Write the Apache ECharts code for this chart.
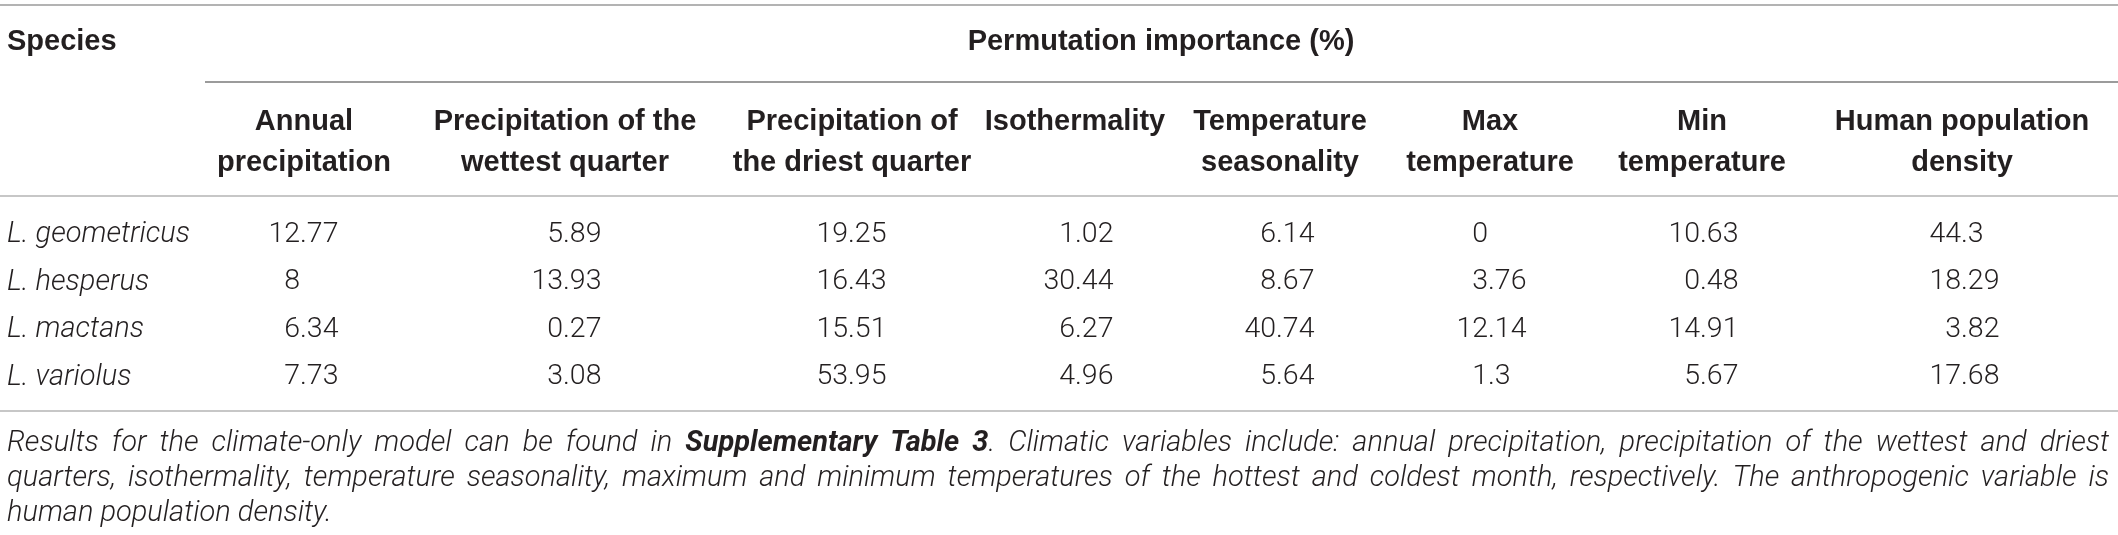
<!DOCTYPE html>
<html>
<head>
    <meta charset="UTF-8">
    <title>Permutation importance</title>
    <style>
        html, body {
            margin: 0;
            padding: 0;
            background: #ffffff;
        }
        #main {
            width: 2118px;
            height: 535px;
        }
    </style>
    <script src="https://cdn.jsdelivr.net/npm/echarts@6/dist/echarts.min.js"></script>
</head>
<body>
<div id="main"></div>
<script type="text/javascript">
    // rows
    var species = ['L. geometricus', 'L. hesperus', 'L. mactans', 'L. variolus'];
    // column headers (one entry per header line)
    var variables = [
        ['Annual', 'precipitation'],
        ['Precipitation of the', 'wettest quarter'],
        ['Precipitation of', 'the driest quarter'],
        ['Isothermality'],
        ['Temperature', 'seasonality'],
        ['Max', 'temperature'],
        ['Min', 'temperature'],
        ['Human population', 'density']
    ];
    // permutation importance (%) per variable, in species order
    var annualPrecip = [12.77, 8, 6.34, 7.73];
    var wettestPrecip = [5.89, 13.93, 0.27, 3.08];
    var driestPrecip = [19.25, 16.43, 15.51, 53.95];
    var isothermality = [1.02, 30.44, 6.27, 4.96];
    var tempSeasonality = [6.14, 8.67, 40.74, 5.64];
    var maxTemp = [0, 3.76, 12.14, 1.3];
    var minTemp = [10.63, 0.48, 14.91, 5.67];
    var humanDensity = [44.3, 18.29, 3.82, 17.68];
    var columns = [annualPrecip, wettestPrecip, driestPrecip, isothermality,
        tempSeasonality, maxTemp, minTemp, humanDensity];

    var caption = [
        'Results for the climate-only model can be found in **Supplementary Table 3**. Climatic variables include: annual precipitation, precipitation of the wettest and driest',
        'quarters, isothermality, temperature seasonality, maximum and minimum temperatures of the hottest and coldest month, respectively. The anthropogenic variable is',
        'human population density.'
    ];

    // layout (pixels)
    var colCenter = [304, 565, 852, 1075, 1280, 1490, 1702, 1962];
    var dotX = [300, 563, 848, 1075, 1276, 1488, 1700, 1961];
    var textColor = '#231f20';
    var boldFont = 'bold 29px "Liberation Sans", Arial, sans-serif';
    var lightFont = '300 28.5px Roboto, "Liberation Sans", sans-serif';
    var italicFont = 'italic 300 29px Roboto, "Liberation Sans", sans-serif';
    var boldItalicFont = 'italic bold 29px Roboto, "Liberation Sans", sans-serif';

    var ctx = document.createElement('canvas').getContext('2d');
    function textWidth(t, font) {
        ctx.font = font;
        return ctx.measureText(t).width;
    }

    function hline(x1, x2, y, color, w) {
        return {
            type: 'line',
            shape: {x1: x1, y1: y, x2: x2, y2: y},
            style: {stroke: color, lineWidth: w}
        };
    }

    function label(text, x, y, font, align) {
        return {
            type: 'text',
            x: x,
            y: y,
            style: {text: text, font: font, fill: textColor, align: align || 'left', verticalAlign: 'middle'}
        };
    }

    function buildGraphics() {
        var g = [];
        g.push(hline(0, 2118, 5, '#9a9a9a', 1.5));
        g.push(hline(205, 2118, 82, '#7a7a7a', 1.5));
        g.push(hline(0, 2118, 196, '#b5b5b5', 1.5));
        g.push(hline(0, 2118, 411, '#b5b5b5', 1.5));

        g.push(label('Species', 7, 42, boldFont));
        g.push(label('Permutation importance (%)', 1161, 42, boldFont, 'center'));
        variables.forEach(function (lines, i) {
            lines.forEach(function (t, k) {
                g.push(label(t, colCenter[i], 122 + k * 41, boldFont, 'center'));
            });
        });

        // caption, justified except the last line
        var left = 7, right = 2109, bold = false;
        caption.forEach(function (line, li) {
            var y = 444 + li * 35;
            var words = line.split(' ').map(function (w) {
                var parts = w.split('**');
                var pieces = [];
                parts.forEach(function (p, k) {
                    if (k > 0) bold = !bold;
                    if (p) pieces.push({text: p, font: bold ? boldItalicFont : italicFont});
                });
                var width = 0;
                pieces.forEach(function (p) {
                    p.w = textWidth(p.text, p.font);
                    width += p.w;
                });
                return {pieces: pieces, w: width};
            });
            var total = words.reduce(function (s, w) { return s + w.w; }, 0);
            var gap = textWidth(' ', italicFont);
            if (li < caption.length - 1) gap = (right - left - total) / (words.length - 1);
            var x = left;
            words.forEach(function (w) {
                var px = x;
                w.pieces.forEach(function (p) {
                    g.push(label(p.text, px, y, p.font));
                    px += p.w;
                });
                x += w.w + gap;
            });
        });
        return g;
    }

    var cells = [];
    columns.forEach(function (col, c) {
        col.forEach(function (v, r) {
            cells.push([c, r, v]);
        });
    });

    var myChart = echarts.init(document.getElementById('main'));
    var option = {
        animation: false,
        grid: {left: 0, right: 0, top: 211, height: 190},
        xAxis: {type: 'value', min: 0, max: 2118, show: false},
        yAxis: {
            type: 'category',
            data: species,
            inverse: true,
            axisLine: {show: false},
            axisTick: {show: false},
            splitLine: {show: false},
            axisLabel: {
                inside: true,
                margin: 7,
                align: 'left',
                fontStyle: 'italic',
                fontWeight: 300,
                fontFamily: 'Roboto',
                fontSize: 29,
                color: textColor
            }
        },
        series: [{
            type: 'custom',
            data: cells,
            renderItem: function (params, api) {
                var c = api.value(0);
                var p = api.coord([dotX[c], api.value(1)]);
                var s = String(api.value(2));
                var i = s.indexOf('.');
                var intPart = i < 0 ? s : s.slice(0, i);
                var frac = i < 0 ? '' : s.slice(i);
                return {
                    type: 'group',
                    children: [
                        {type: 'text', x: p[0], y: p[1],
                            style: {text: intPart, font: lightFont, fill: textColor, align: 'right', verticalAlign: 'middle'}},
                        {type: 'text', x: p[0], y: p[1],
                            style: {text: frac, font: lightFont, fill: textColor, align: 'left', verticalAlign: 'middle'}}
                    ]
                };
            }
        }],
        graphic: buildGraphics()
    };
    myChart.setOption(option);
</script>
</body>
</html>
